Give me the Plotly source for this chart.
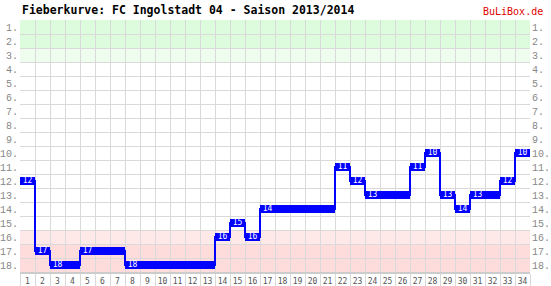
import plotly.graph_objects as go

matchdays = list(range(1, 35))
positions = [12, 17, 18, 18, 17, 17, 17, 18, 18, 18, 18, 18, 18, 16, 15, 16, 14, 14, 14, 14,
             14, 11, 12, 13, 13, 13, 11, 10, 13, 14, 13, 13, 12, 10]
rank_labels = [f"{i}." for i in range(1, 19)]
title_text = "Fieberkurve: FC Ingolstadt 04 - Saison 2013/2014"
brand_text = "BuLiBox.de"

# runs of equal position
runs = []
start = 0
for i in range(1, len(positions) + 1):
    if i == len(positions) or positions[i] != positions[start]:
        runs.append((matchdays[start], i - start, positions[start]))
        start = i

BLUE = "#0000ff"
GRID = "#d9d9d9"
x_bounds = [m - 0.5 for m in matchdays] + [matchdays[-1] + 0.5]

fig = go.Figure()

fig.add_trace(go.Bar(
    orientation="h",
    y=[r[2] for r in runs],
    x=[r[1] for r in runs],
    base=[r[0] - 0.5 for r in runs],
    width=0.57,
    marker=dict(color=BLUE, line=dict(width=0)),
    hoverinfo="skip",
))

fig.add_trace(go.Scatter(
    x=x_bounds,
    y=positions + [positions[-1]],
    mode="lines",
    line=dict(color=BLUE, width=2, shape="hv"),
    hoverinfo="skip",
))

fig.add_trace(go.Scatter(
    x=[r[0] for r in runs],
    y=[r[2] for r in runs],
    text=[str(r[2]) for r in runs],
    mode="text",
    textposition="middle center",
    textfont=dict(color="white", size=8, family="DejaVu Sans Mono"),
    hoverinfo="skip",
))

# invisible helper traces so the overlay axes (labels) are drawn
fig.add_trace(go.Scatter(x=[1], y=[1], yaxis="y2", mode="markers",
                         marker=dict(opacity=0), hoverinfo="skip"))
fig.add_trace(go.Scatter(x=[1], y=[1], xaxis="x2", mode="markers",
                         marker=dict(opacity=0), hoverinfo="skip"))

bands = [
    (0.5, 2.5, "#ddfcdd"),
    (2.5, 3.5, "#eefdee"),
    (15.5, 16.5, "#ffe8e8"),
    (16.5, 18.5, "#ffdcdc"),
]
shapes = [dict(type="rect", xref="paper", x0=0, x1=1, yref="y", y0=a, y1=b,
               fillcolor=c, line=dict(width=0), layer="below") for a, b, c in bands]

yaxis_common = dict(
    range=[18.5, 0.5],
    tickmode="array",
    tickvals=list(range(1, 19)),
    ticktext=rank_labels,
    showgrid=False,
    zeroline=False,
    ticks="",
    ticklabelstandoff=1,
    automargin=False,
    tickfont=dict(family="Liberation Mono", size=10, color="#888888"),
    fixedrange=True,
)

fig.update_layout(
    width=551, height=286,
    margin=dict(l=20, r=21, t=20, b=14),
    paper_bgcolor="white",
    plot_bgcolor="white",
    showlegend=False,
    barmode="overlay",
    shapes=shapes,
    xaxis=dict(
        range=[0.5, 34.5],
        tickmode="array",
        tickvals=x_bounds,
        ticktext=["" for _ in x_bounds],
        showgrid=True, gridcolor=GRID, gridwidth=1,
        zeroline=False,
        ticks="outside", ticklen=14, tickcolor=GRID, tickwidth=1,
        showline=True,
        linecolor="#cccccc",
        linewidth=2,
        automargin=False,
        fixedrange=True,
    ),
    xaxis2=dict(
        range=[0.5, 34.5],
        overlaying="x",
        anchor="y",
        side="bottom",
        tickmode="array",
        tickvals=matchdays,
        ticktext=[str(m) for m in matchdays],
        showgrid=False,
        zeroline=False,
        showline=False,
        ticks="",
        ticklabelstandoff=3,
        automargin=False,
        tickfont=dict(family="DejaVu Sans Mono", size=8, color="#555555"),
        fixedrange=True,
    ),
    yaxis=dict(
        **yaxis_common,
        minor=dict(
            tickmode="array",
            tickvals=[i + 0.5 for i in range(0, 19)],
            showgrid=True, gridcolor=GRID, gridwidth=1,
        ),
    ),
    yaxis2=dict(**yaxis_common, overlaying="y", side="right"),
    annotations=[
        dict(text=f"<b>{title_text}</b>", xref="paper", yref="paper",
             x=0, y=(272 - 10) / 252, xanchor="left", yanchor="middle",
             showarrow=False,
             font=dict(family="DejaVu Sans Mono", size=11.5, color="black")),
        dict(text=brand_text, xref="paper", yref="paper",
             x=(545 - 20) / 510, y=(272 - 12) / 252, xanchor="right", yanchor="middle",
             showarrow=False,
             font=dict(family="DejaVu Sans Mono", size=10, color="#dd0000")),
    ],
)

fig.write_html("out.html")
